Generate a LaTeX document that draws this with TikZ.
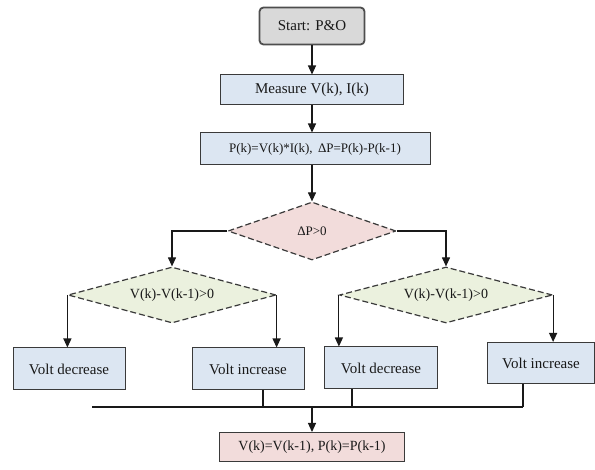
\documentclass[tikz,border=0pt]{standalone}
\usepackage{fontspec}
\setmainfont{Liberation Serif}
\usetikzlibrary{shapes.geometric,arrows.meta}
\definecolor{boxblue}{HTML}{DCE6F2}
\definecolor{boxpink}{HTML}{F2DCDB}
\definecolor{boxgreen}{HTML}{EBF1DE}
\definecolor{boxgray}{HTML}{D9D9D9}
\definecolor{edge}{HTML}{3A3A3A}
\tikzset{
  every node/.style={font=\fontsize{14}{16}\selectfont, text=black!90},
  bigtext/.style={font=\fontsize{15}{17}\selectfont},
  smalltext/.style={font=\fontsize{13}{15}\selectfont},
  procbox/.style={rectangle, fill=boxblue, draw=edge, line width=1pt, inner sep=0pt},
  startbox/.style={rectangle, rounded corners=4pt, fill=boxgray, draw=edge!90, line width=1.8pt, inner sep=0pt},
  endbox/.style={rectangle, fill=boxpink, draw=edge, line width=1pt, inner sep=0pt},
  decpink/.style={diamond, fill=boxpink, draw=edge, dash pattern=on 6pt off 3pt, line width=1.2pt, inner sep=0pt, aspect=3},
  decgreen/.style={diamond, fill=boxgreen, draw=edge, dash pattern=on 6pt off 3pt, line width=1.2pt, inner sep=0pt, aspect=3},
  arr/.style={-{Triangle[length=9pt,width=8pt]}, line width=1.1pt, draw=black!90},
  link/.style={line width=1.1pt, draw=black!90}
}
\begin{document}
\begin{tikzpicture}[x=1pt,y=-1pt]
\useasboundingbox (0,0) rectangle (595,470);
\node[startbox, bigtext, minimum width=105pt, minimum height=37pt] (start) at (312,26) {Start: P\&O};
\node[procbox, bigtext, minimum width=183pt, minimum height=30pt] (meas) at (312,90) {Measure V(k), I(k)};
\node[procbox, smalltext, minimum width=230pt, minimum height=32pt] (calc) at (315,149) {P(k)=V(k)*I(k), \,ΔP=P(k)-P(k-1)};
\node[decpink, smalltext, minimum width=168pt, minimum height=58pt] (dp) at (312,231) {ΔP>0};
\node[decgreen, minimum width=208pt, minimum height=56pt] (ld) at (172,295) {V(k)-V(k-1)>0};
\node[decgreen, minimum width=213pt, minimum height=56pt] (rd) at (446,295) {V(k)-V(k-1)>0};
\node[procbox, bigtext, minimum width=112pt, minimum height=42pt] (vdl) at (69,369) {Volt decrease};
\node[procbox, bigtext, minimum width=112pt, minimum height=42pt] (vil) at (248,369) {Volt increase};
\node[procbox, bigtext, minimum width=113pt, minimum height=42pt] (vdr) at (381,368) {Volt decrease};
\node[procbox, bigtext, minimum width=107pt, minimum height=41pt] (vir) at (541,363) {Volt increase};
\node[endbox, minimum width=185pt, minimum height=29pt] (fin) at (312,447) {V(k)=V(k-1), P(k)=P(k-1)};
\coordinate (m1) at (92,407);
\coordinate (m2) at (523,407);
\draw[arr] (start) -- (meas);
\draw[arr] (meas.south) -- (meas.south |- calc.north);
\draw[arr] (calc.south -| dp.north) -- (dp.north);
\draw[arr] (dp.west) -| (ld.north);
\draw[arr] (dp.east) -| (rd.north);
\draw[arr] (ld.west) -- (ld.west |- vdl.north);
\draw[arr] (ld.east) -- (ld.east |- vil.north);
\draw[arr] (rd.west) -- (rd.west |- vdr.north);
\draw[arr] (rd.east) -- (rd.east |- vir.north);
\draw[link] (m1) -- (m2);
\draw[link] ([xshift=15pt]vil.south) -- ([xshift=15pt]vil.south |- m1);
\draw[link] ([xshift=-29pt]vdr.south) -- ([xshift=-29pt]vdr.south |- m1);
\draw[link] (vir.south -| m2) -- (m2);
\draw[arr] (fin.north |- m1) -- (fin.north);
\end{tikzpicture}
\end{document}
